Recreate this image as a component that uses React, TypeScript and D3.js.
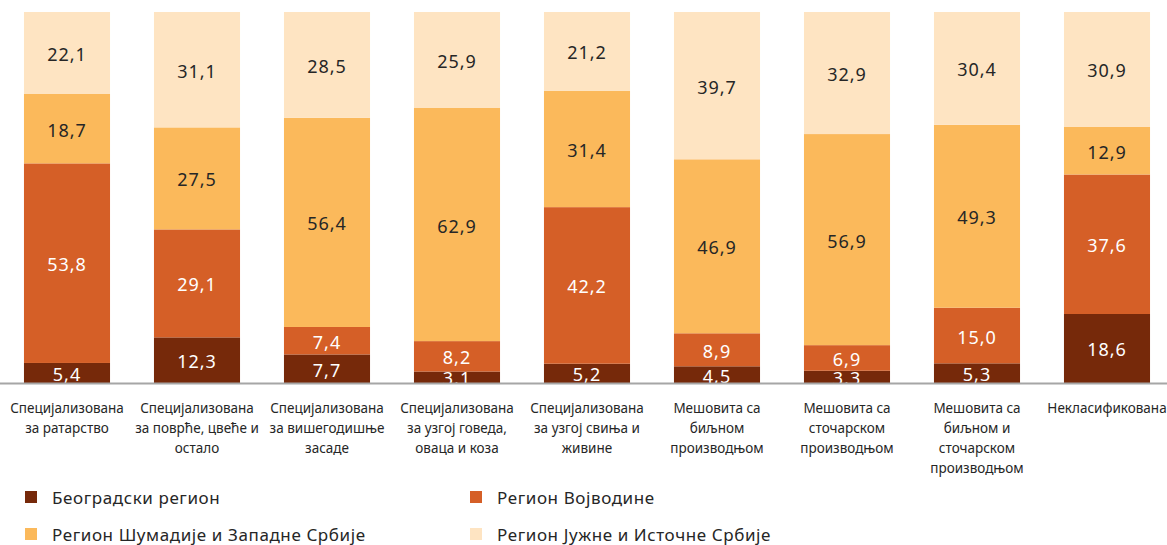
import React from "react";
import * as d3 from "d3";

const categories: string[][] = [
  ["Специјализована", "за ратарство"],
  ["Специјализована", "за поврће, цвеће и", "остало"],
  ["Специјализована", "за вишегодишње", "засаде"],
  ["Специјализована", "за узгој говеда,", "оваца и коза"],
  ["Специјализована", "за узгој свиња и", "живине"],
  ["Мешовита са", "биљном", "производњом"],
  ["Мешовита са", "сточарском", "производњом"],
  ["Мешовита са", "биљном и", "сточарском", "производњом"],
  ["Некласификована"],
];

const seriesNames = [
  "Београдски регион",
  "Регион Војводине",
  "Регион Шумадије и Западне Србије",
  "Регион Јужне и Источне Србије",
];

const beograd = [5.4, 12.3, 7.7, 3.1, 5.2, 4.5, 3.3, 5.3, 18.6];
const vojvodina = [53.8, 29.1, 7.4, 8.2, 42.2, 8.9, 6.9, 15.0, 37.6];
const sumadija = [18.7, 27.5, 56.4, 62.9, 31.4, 46.9, 56.9, 49.3, 12.9];
const juzna = [22.1, 31.1, 28.5, 25.9, 21.2, 39.7, 32.9, 30.4, 30.9];

const colors = ["#76290A", "#D55F27", "#FBB95B", "#FEE4C2"];
const labelColors = ["#ffffff", "#ffffff", "#262626", "#262626"];

const width = 1167;
const height = 545;
const axisY = 383;
const topY = 12;

const font = "'Noto Sans', 'DejaVu Sans', sans-serif";

export default function App() {
  const keys = ["b", "v", "s", "j"];
  const rows = categories.map((c, i) => ({
    i,
    b: beograd[i],
    v: vojvodina[i],
    s: sumadija[i],
    j: juzna[i],
  }));

  // shares are rounded, so normalise each bar to 100%
  const stack = d3.stack<any>().keys(keys).offset(d3.stackOffsetExpand);
  const series = stack(rows);

  const x = d3
    .scaleBand<number>()
    .domain(rows.map((d) => d.i))
    .range([2, 1172])
    .paddingInner(0.338)
    .paddingOuter(0.169);

  const y = d3.scaleLinear().domain([0, 1]).range([axisY, topY]);

  const raw = [beograd, vojvodina, sumadija, juzna];

  return (
    <svg
      width={width}
      height={height}
      style={{ position: "absolute", left: 0, top: 0, background: "#fff" }}
    >
      {series.map((s, si) => (
        <g key={si}>
          {s.map((d, di) => (
            <rect
              key={di}
              x={x(di)}
              y={y(d[1])}
              width={x.bandwidth()}
              height={y(d[0]) - y(d[1])}
              fill={colors[si]}
            />
          ))}
        </g>
      ))}
      {series.map((s, si) => (
        <g key={"l" + si}>
          {s.map((d, di) => (
            <text
              key={di}
              x={(x(di) as number) + x.bandwidth() / 2}
              y={(y(d[0]) + y(d[1])) / 2 + 1}
              textAnchor="middle"
              dominantBaseline="central"
              fill={labelColors[si]}
              fontFamily={font}
              fontSize={18}
              letterSpacing={1}
            >
              {raw[si][di].toFixed(1).replace(".", ",")}
            </text>
          ))}
        </g>
      ))}
      <line x1={0} x2={width} y1={axisY + 0.5} y2={axisY + 0.5} stroke="#a6a6a6" strokeWidth={2} />
      {categories.map((lines, i) => (
        <text
          key={i}
          x={(x(i) as number) + x.bandwidth() / 2}
          textAnchor="middle"
          fontFamily={font}
          fontSize={13.5}
          fill="#262626"
        >
          {lines.map((t, li) => (
            <tspan key={li} x={(x(i) as number) + x.bandwidth() / 2} y={413 + li * 20}>
              {t}
            </tspan>
          ))}
        </text>
      ))}
      {seriesNames.map((n, i) => {
        const lx = i % 2 === 0 ? 25 : 470;
        const ly = i < 2 ? 497 : 534;
        return (
          <g key={n}>
            <rect x={lx} y={ly - 6} width={12} height={12} fill={colors[i]} />
            <text
              x={lx + 27}
              y={ly}
              dominantBaseline="central"
              fontFamily={font}
              fontSize={17}
              fill="#262626"
              letterSpacing={0.6}
            >
              {n}
            </text>
          </g>
        );
      })}
    </svg>
  );
}
